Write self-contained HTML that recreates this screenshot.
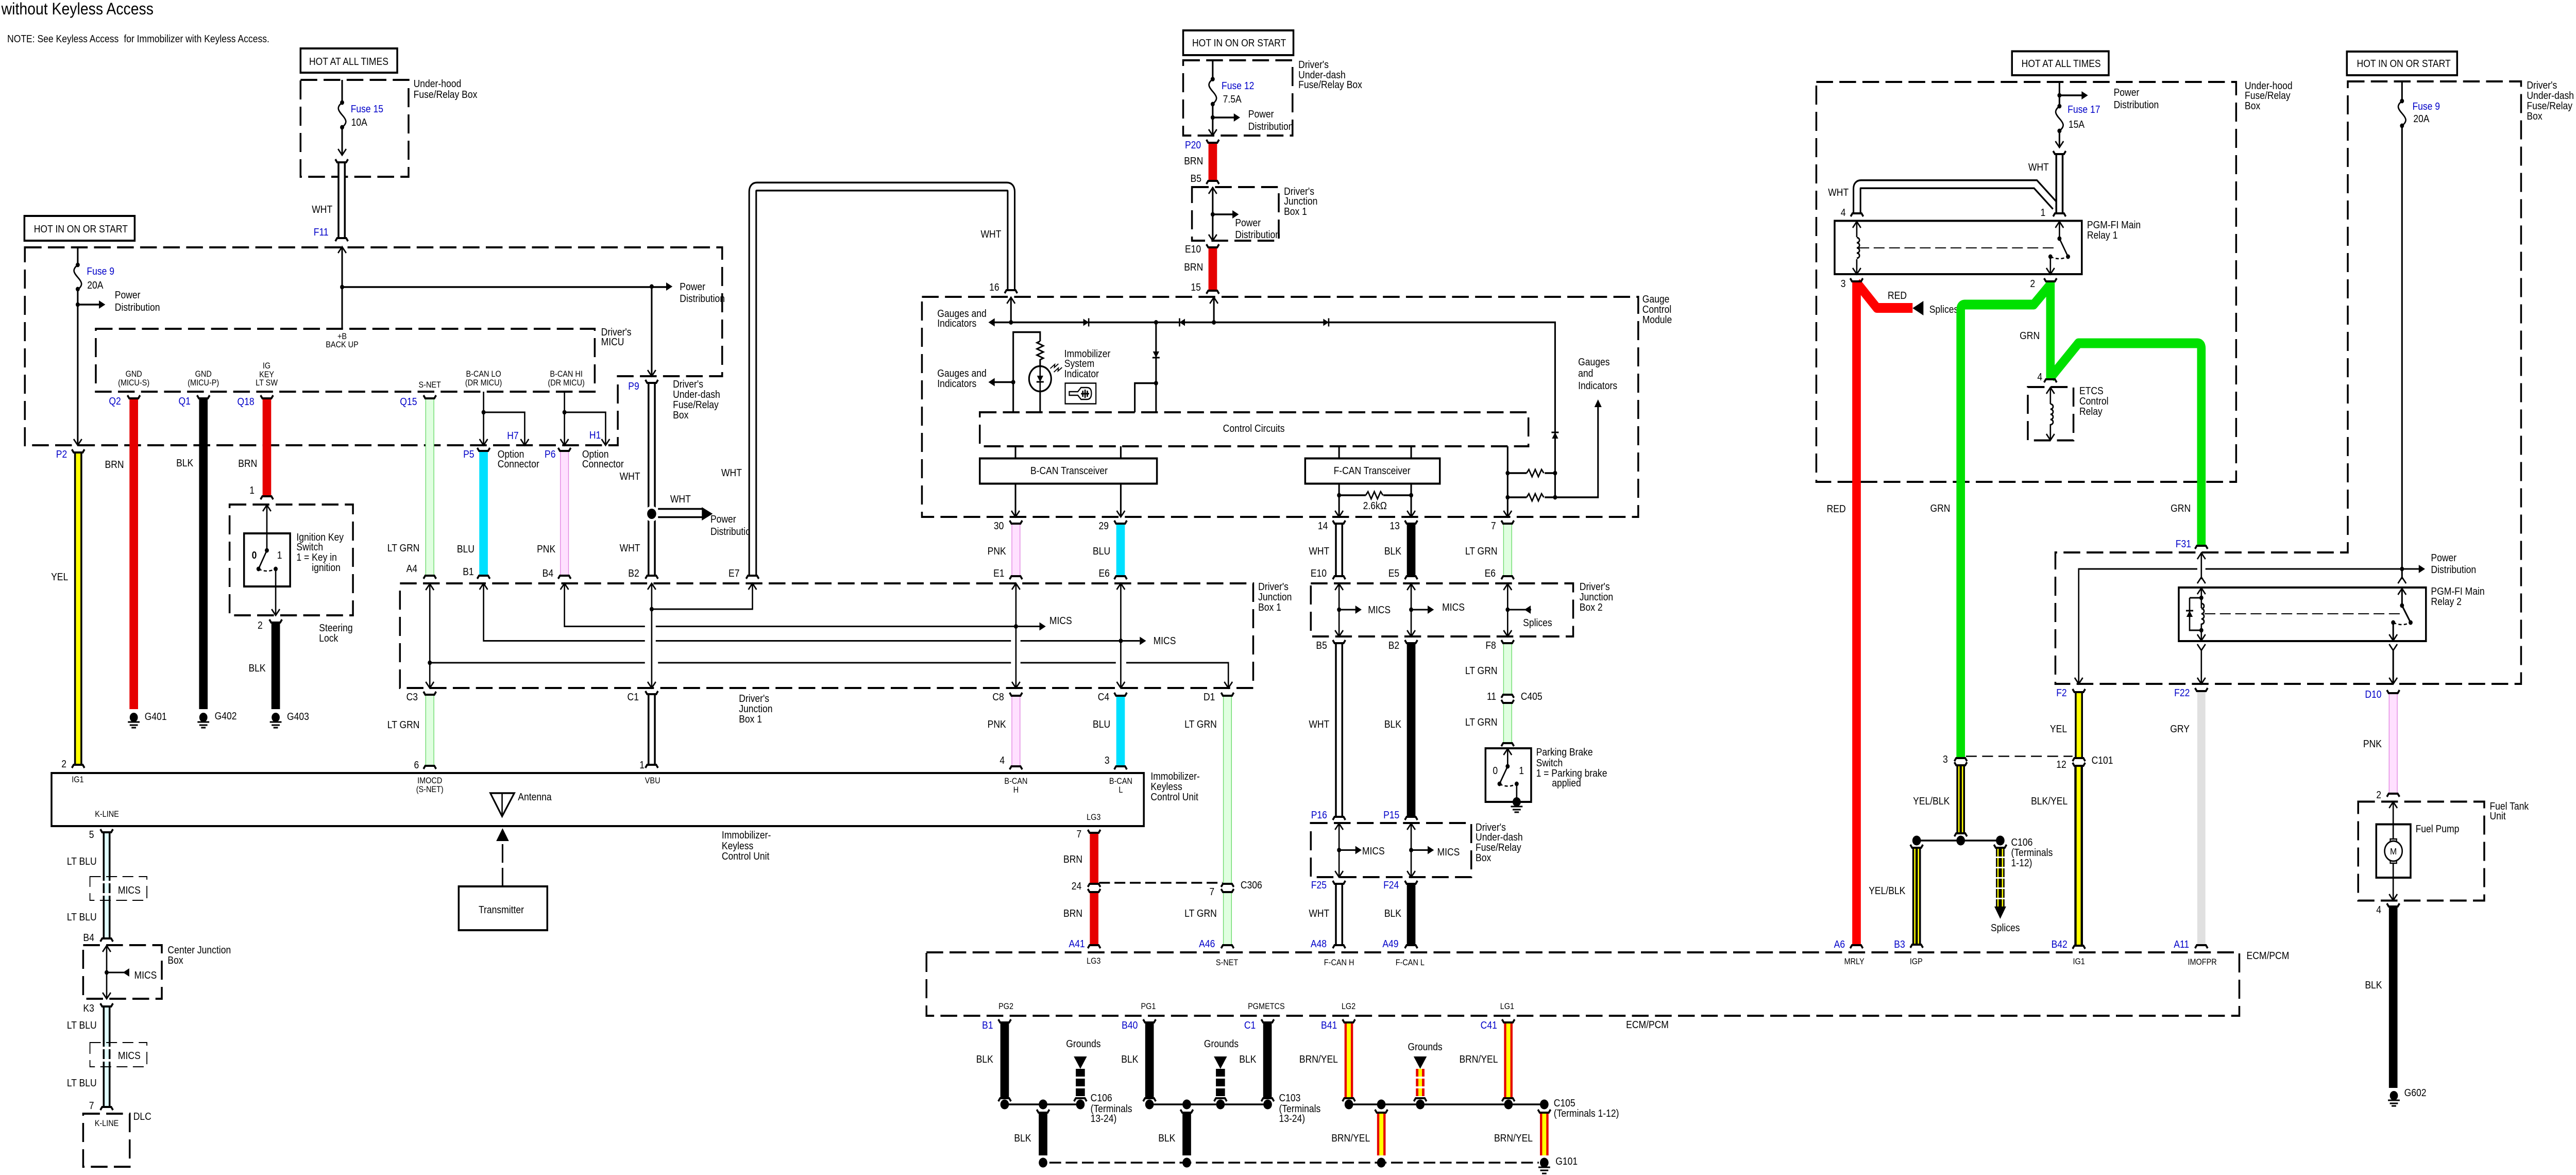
<!DOCTYPE html>
<html lang="en"><head><meta charset="utf-8"><title>without Keyless Access</title>
<style>
html,body{margin:0;padding:0;background:#fff;width:100%;height:100%;overflow:hidden}
svg{display:block;position:absolute;left:0;top:0;width:100%;height:100%}
text{font-family:"Liberation Sans",sans-serif;font-size:20px;fill:#000}
.s{font-size:16.5px}.m{text-anchor:middle}.b{fill:#0000c8}
.n{fill:none;stroke:#000;stroke-width:3.5}
.tl{fill:none;stroke:#000;stroke-width:3}
.box{fill:none;stroke:#000;stroke-width:4}
.d{fill:none;stroke:#000;stroke-width:4;stroke-dasharray:37 14}
.td{fill:none;stroke:#000;stroke-width:2;stroke-dasharray:24 12}
.r{fill:#e60000}.k{fill:#000}.bl{fill:#00e0ff}
.lg{fill:#e0ffe0;stroke:#66d866;stroke-width:1.5}
.pk{fill:#ffe0ff;stroke:#e080e0;stroke-width:1.5}
.wh{fill:#fff;stroke:#000;stroke-width:4}
.ye{fill:#ff0;stroke:#000;stroke-width:4}
.kl{fill:#e0ffff;stroke:#000;stroke-width:4}
.y{fill:#ff0}
</style></head><body>
<svg xmlns="http://www.w3.org/2000/svg" viewBox="0 0 5700 2280" preserveAspectRatio="none">
<defs>
<path id="t" d="M-14,-6L-10,0H10L14,-6" fill="none" stroke="#000" stroke-width="4"/>
<path id="u" d="M-14,6L-10,0H10L14,6" fill="none" stroke="#000" stroke-width="4"/>
<path id="ad" d="M-9,-12L0,0L9,-12" fill="none" stroke="#000" stroke-width="3"/>
<path id="au" d="M-9,12L0,0L9,12" fill="none" stroke="#000" stroke-width="3"/>
<circle id="o" r="4.5" fill="#000"/>
<circle id="O" r="9.5" fill="#000"/>
<polygon id="ar" points="-14,-8 0,0 -14,8" fill="#000"/>
<polygon id="al" points="14,-8 0,0 14,8" fill="#000"/>
<path id="fu" d="M0,0c-13,9-9,15 0,24c9,9 13,15 0,24" fill="none" stroke="#000" stroke-width="3"/>
<path id="co" d="M0,0a6,5 0 0 1 0,10a6,5 0 0 1 0,10a6,5 0 0 1 0,10a6,5 0 0 1 0,10" fill="none" stroke="#000" stroke-width="3"/>
<path id="re" d="M0,0l5,-7l7,14l7,-14l7,14l7,-14l5,7" fill="none" stroke="#000" stroke-width="3"/>
<path id="rv" d="M0,0l-7,3l14,6l-14,6l14,6l-14,6l14,6l-7,3" fill="none" stroke="#000" stroke-width="3"/>
<g id="g"><circle r="9" fill="#000"/><path d="M-13,9H13M-9,15H9M-5,20H5" stroke="#000" stroke-width="3"/></g>
<g id="dr"><polygon points="-6,-7 6,0 -6,7" fill="#000"/><path d="M6,-8V8" stroke="#000" stroke-width="3"/></g>
<g id="dl"><polygon points="6,-7 -6,0 6,7" fill="#000"/><path d="M-6,-8V8" stroke="#000" stroke-width="3"/></g>
<g id="dd"><polygon points="-7,-6 0,6 7,-6" fill="#000"/><path d="M-8,6H8" stroke="#000" stroke-width="3"/></g>
<g id="du"><polygon points="-7,6 0,-6 7,6" fill="#000"/><path d="M-8,-6H8" stroke="#000" stroke-width="3"/></g>
</defs>
<rect width="5700" height="2280" fill="#fff"/>

<!-- titles -->
<text x="3" y="28" style="font-size:32.4px">without Keyless Access</text>
<text x="16" y="82">NOTE: See Keyless Access</text>
<text x="274" y="82">for Immobilizer with Keyless Access.</text>

<!-- left upper boxes -->
<rect class="box" x="665" y="94" width="214" height="47"/>
<text x="684" y="126">HOT AT ALL TIMES</text>
<rect class="d" x="665" y="155" width="239" height="188"/>
<text x="915" y="169">Under-hood</text><text x="915" y="190">Fuse/Relay Box</text>
<path class="n" d="M757,155V199M757,247V301"/>
<use href="#o" x="757" y="199"/><use href="#o" x="757" y="247"/><use href="#fu" x="757" y="199"/><use href="#ad" x="757" y="301"/>
<text class="b" x="776" y="218">Fuse 15</text><text x="777" y="244">10A</text>
<rect class="wh" x="749" y="315" width="14" height="147"/><use href="#t" x="756" y="315"/><use href="#u" x="756" y="462"/>
<text x="690" y="413">WHT</text><text class="b" x="694" y="457">F11</text>

<rect class="box" x="54" y="419" width="244" height="48"/>
<text x="75" y="451">HOT IN ON OR START</text>
<path class="d" d="M55,480H1598V730H1367V864H55Z"/>
<path class="n" d="M172,480V514M172,561V864"/>
<use href="#o" x="172" y="514"/><use href="#o" x="172" y="561"/><use href="#fu" x="172" y="514"/><use href="#ad" x="172" y="864"/>
<use href="#o" x="172" y="591"/><path class="n" d="M172,591H225"/><use href="#ar" x="233" y="591"/>
<text class="b" x="192" y="533">Fuse 9</text><text x="193" y="560">20A</text>
<text x="254" y="579">Power</text><text x="254" y="603">Distribution</text>
<path class="n" d="M757,480V637M757,557H1478M1442,556V730"/><use href="#au" x="757" y="479"/><use href="#o" x="757" y="557"/><use href="#o" x="1442" y="556"/><use href="#ar" x="1488" y="556"/><use href="#ad" x="1442" y="730"/>
<text x="1504" y="563">Power</text><text x="1504" y="586">Distribution</text>

<rect class="d" x="212" y="638" width="1104" height="122"/>
<text class="s m" x="757" y="658">+B</text><text class="s m" x="757" y="674">BACK UP</text>
<text x="1330" y="651">Driver's</text><text x="1330" y="670">MICU</text>
<text class="s m" x="296" y="731">GND</text><text class="s m" x="296" y="748">(MICU-S)</text>
<text class="s m" x="450" y="731">GND</text><text class="s m" x="450" y="748">(MICU-P)</text>
<text class="s m" x="590" y="715">IG</text><text class="s m" x="590" y="732">KEY</text><text class="s m" x="590" y="748">LT SW</text>
<text class="s m" x="951" y="752">S-NET</text>
<text class="s m" x="1070" y="731">B-CAN LO</text><text class="s m" x="1070" y="748">(DR MICU)</text>
<text class="s m" x="1253" y="731">B-CAN HI</text><text class="s m" x="1253" y="748">(DR MICU)</text>

<!-- left wires -->
<rect class="r" x="286.5" y="773" width="19" height="603"/><use href="#t" x="296" y="773"/><use href="#g" x="296" y="1392"/>
<text class="b" x="241" y="785">Q2</text><text x="232" y="908">BRN</text><text x="320" y="1397">G401</text>
<rect class="k" x="440.5" y="773" width="19" height="603"/><use href="#t" x="450" y="773"/><use href="#g" x="450" y="1392"/>
<text class="b" x="395" y="785">Q1</text><text x="390" y="905">BLK</text><text x="475" y="1396">G402</text>
<rect class="r" x="581" y="773" width="19" height="190"/><use href="#t" x="590.5" y="773"/><use href="#u" x="590.5" y="963"/>
<text class="b" x="525" y="786">Q18</text><text x="527" y="906">BRN</text><text x="552" y="958">1</text>
<rect class="d" x="508" y="979" width="273" height="215"/>
<rect class="box" x="540" y="1035" width="102" height="103"/>
<path class="tl" d="M590.5,979V1068L572,1104M610,1104V1194"/><path d="M572,1104Q590,1112 610,1104" fill="none" stroke="#000" stroke-width="2.5" stroke-dasharray="7 5"/>
<use href="#au" x="590.5" y="980"/><use href="#ad" x="610" y="1194"/><use href="#o" x="590.5" y="1068"/><use href="#o" x="572" y="1104"/><use href="#o" x="610" y="1104"/>
<text x="557" y="1084" font-weight="bold">0</text><text x="613" y="1084">1</text>
<text x="656" y="1049">Ignition Key</text><text x="656" y="1068">Switch</text><text x="656" y="1088">1 = Key in</text><text x="690" y="1108">ignition</text>
<text x="706" y="1225">Steering</text><text x="706" y="1245">Lock</text><text x="570" y="1220">2</text>
<rect class="k" x="600.5" y="1208" width="19" height="168"/><use href="#t" x="610" y="1208"/><use href="#g" x="610" y="1392"/>
<text x="550" y="1303">BLK</text><text x="635" y="1397">G403</text>

<rect class="ye" x="166" y="878" width="14" height="606"/><use href="#t" x="173" y="878"/><use href="#u" x="173" y="1484"/>
<text class="b" x="124" y="888">P2</text><text x="113" y="1126">YEL</text><text x="136" y="1489">2</text>

<rect class="lg" x="942" y="773" width="18" height="344"/><use href="#t" x="951" y="773"/><use href="#u" x="951" y="1117"/>
<text class="b" x="885" y="786">Q15</text><text x="857" y="1070">LT GRN</text><text x="899" y="1110">A4</text>
<rect class="lg" x="942" y="1348" width="18" height="138"/><use href="#t" x="951" y="1348"/><use href="#u" x="951" y="1486"/>
<text x="899" y="1359">C3</text><text x="857" y="1413">LT GRN</text><text x="916" y="1491">6</text>

<!-- junction box 1 -->
<rect class="d" x="885" y="1132" width="1888" height="203"/>
<path class="tl" d="M951,1132V1335M951,1286H1427M1456,1286H2237M2258,1286H2469M2492,1286H2718V1335"/>
<use href="#au" x="951" y="1133"/><use href="#ad" x="951" y="1335"/><use href="#o" x="951" y="1286"/><use href="#ad" x="2718" y="1335"/>
<path class="tl" d="M1249,1132V1215.5H1427M1451,1215.5H2300"/><use href="#au" x="1249" y="1132"/><use href="#ar" x="2314" y="1215.5"/>
<path class="tl" d="M1070,1132V1243.5H1427M1451,1243.5H2237M2258,1243.5H2522"/><use href="#au" x="1070" y="1132"/><use href="#ar" x="2536" y="1243.5"/>
<path class="tl" d="M1442,1132V1335M1442,1182H1665V1132"/><use href="#au" x="1442" y="1132"/><use href="#ad" x="1442" y="1335"/><use href="#o" x="1442" y="1182"/><use href="#au" x="1665" y="1132"/>
<path class="tl" d="M2248,1132V1335M2480,1132V1335"/><use href="#au" x="2248" y="1132"/><use href="#ad" x="2248" y="1335"/><use href="#au" x="2480" y="1132"/><use href="#ad" x="2480" y="1335"/><use href="#o" x="2248" y="1215.5"/><use href="#o" x="2480" y="1243.5"/>
<text x="2322" y="1211">MICS</text><text x="2552" y="1250">MICS</text>
<text x="2784" y="1145">Driver's</text><text x="2784" y="1165">Junction</text><text x="2784" y="1185">Box 1</text>

<!-- option connectors -->
<path class="tl" d="M1070,760V864M1070,800H1161V864M1249,760V864M1249,800H1340V864"/>
<use href="#o" x="1070" y="800"/><use href="#o" x="1249" y="800"/><use href="#ad" x="1070" y="864"/><use href="#ad" x="1161" y="864"/><use href="#ad" x="1249" y="864"/><use href="#ad" x="1340" y="864"/>
<text class="b" x="1122" y="852">H7</text><text class="b" x="1304" y="851">H1</text>
<text x="1101" y="888">Option</text><text x="1101" y="907">Connector</text><text x="1288" y="888">Option</text><text x="1288" y="907">Connector</text>
<rect class="bl" x="1060.5" y="875" width="19" height="242"/><use href="#t" x="1070" y="875"/><use href="#u" x="1070" y="1117"/>
<text class="b" x="1025" y="888">P5</text><text x="1011" y="1072">BLU</text><text x="1024" y="1116">B1</text>
<rect class="pk" x="1240" y="875" width="18" height="242"/><use href="#t" x="1249" y="875"/><use href="#u" x="1249" y="1117"/>
<text class="b" x="1205" y="888">P6</text><text x="1188" y="1072">PNK</text><text x="1200" y="1119">B4</text>

<!-- P9 wire -->
<rect class="wh" x="1435" y="743" width="14" height="374"/><use href="#t" x="1442" y="743"/><use href="#u" x="1442" y="1117"/>
<circle cx="1442" cy="997" r="15" fill="#fff"/><circle cx="1442" cy="997" r="10" fill="#000"/>
<path class="n" d="M1456,987.5H1556M1456,1003.5H1556"/><polygon points="1553,984 1577,997 1553,1010" fill="#000"/>
<text class="b" x="1390" y="756">P9</text>
<text x="1489" y="752">Driver's</text><text x="1489" y="772">Under-dash</text><text x="1489" y="792">Fuse/Relay</text><text x="1489" y="812">Box</text>
<text x="1371" y="931">WHT</text><text x="1371" y="1070">WHT</text><text x="1483" y="975">WHT</text>
<text x="1572" y="1014">Power</text><text x="1572" y="1038">Distribution</text>
<text x="1390" y="1119">B2</text><text x="1596" y="924">WHT</text><text x="1612" y="1119">E7</text>
<rect class="wh" x="1435" y="1347" width="14" height="137"/><use href="#t" x="1442" y="1347"/><use href="#u" x="1442" y="1484"/>
<text x="1388" y="1359">C1</text><text x="1415" y="1491">1</text>
<text x="1635" y="1362">Driver's</text><text x="1635" y="1382">Junction</text><text x="1635" y="1402">Box 1</text>
<!-- E7 wire -->
<path d="M1665.5,1117V372Q1665.5,362 1675,362H2228Q2237.5,362 2237.5,372V563" fill="none" stroke="#000" stroke-width="19"/>
<path d="M1665.5,1117V372Q1665.5,362 1675,362H2228Q2237.5,362 2237.5,372V563" fill="none" stroke="#fff" stroke-width="12"/>
<use href="#u" x="1665" y="1117"/><use href="#u" x="2237" y="563"/>
<text x="2170" y="461">WHT</text>

<!-- immobilizer unit -->
<rect class="box" x="114" y="1500" width="2417" height="103"/>
<text class="s m" x="172" y="1518">IG1</text><text class="s" x="210" y="1585">K-LINE</text>
<text class="s m" x="951" y="1520">IMOCD</text><text class="s m" x="951" y="1537">(S-NET)</text>
<text class="s m" x="1444" y="1520">VBU</text>
<text class="s m" x="2248" y="1521">B-CAN</text><text class="s m" x="2248" y="1538">H</text>
<text class="s m" x="2480" y="1521">B-CAN</text><text class="s m" x="2480" y="1538">L</text>
<text class="s m" x="2420" y="1591">LG3</text>
<text x="2546" y="1513">Immobilizer-</text><text x="2546" y="1533">Keyless</text><text x="2546" y="1553">Control Unit</text>
<text x="1597" y="1627">Immobilizer-</text><text x="1597" y="1648">Keyless</text><text x="1597" y="1668">Control Unit</text>
<polygon points="1085,1539 1138,1539 1111,1584" fill="none" stroke="#000" stroke-width="3.5"/><path class="tl" d="M1111,1539V1584"/>
<text x="1146" y="1553">Antenna</text>
<rect class="box" x="1015" y="1720" width="196" height="85"/><text x="1059" y="1772">Transmitter</text>
<path d="M1112,1720V1630" fill="none" stroke="#000" stroke-width="3.5" stroke-dasharray="36 10"/><polygon points="1098,1632 1112,1607 1126,1632" fill="#000"/>

<!-- K-LINE -->
<rect class="kl" x="229.5" y="1615" width="13" height="206"/><use href="#t" x="236" y="1615"/><use href="#u" x="236" y="1821"/>
<rect x="226" y="1709" width="20" height="5" fill="#fff"/><rect x="226" y="1733" width="20" height="5" fill="#fff"/>
<path class="td" d="M199,1701H325V1747H199Z"/>
<rect class="kl" x="229.5" y="1953" width="13" height="195"/><use href="#t" x="236" y="1953"/><use href="#u" x="236" y="2148"/>
<rect x="226" y="2031" width="20" height="5" fill="#fff"/><rect x="226" y="2055" width="20" height="5" fill="#fff"/>
<path class="td" d="M199,2023H325V2070H199Z"/>
<text x="261" y="1734">MICS</text><text x="261" y="2055">MICS</text>
<text x="197" y="1626">5</text><text x="148" y="1678">LT BLU</text><text x="148" y="1786">LT BLU</text><text x="184" y="1826">B4</text>
<rect class="d" x="184" y="1834" width="174" height="104"/>
<path class="tl" d="M236,1834V1938M236,1887H278"/><use href="#au" x="236" y="1835"/><use href="#ad" x="236" y="1938"/><use href="#o" x="236" y="1887"/><use href="#al" x="272" y="1887"/>
<text x="297" y="1899">MICS</text><text x="371" y="1850">Center Junction</text><text x="371" y="1870">Box</text>
<text x="184" y="1963">K3</text><text x="148" y="1996">LT BLU</text><text x="148" y="2108">LT BLU</text><text x="197" y="2152">7</text>
<rect class="d" x="184" y="2161" width="103" height="103"/><text x="295" y="2173">DLC</text><text class="s m" x="236" y="2185">K-LINE</text>

<!-- gauge top -->
<rect class="box" x="2618" y="59" width="244" height="48"/><text x="2638" y="90">HOT IN ON OR START</text>
<rect class="d" x="2618" y="117" width="242" height="146"/>
<path class="n" d="M2683.4,117V153M2683.4,202V263M2683.4,228H2736"/>
<use href="#o" x="2683.4" y="153.5"/><use href="#o" x="2683.4" y="202"/><use href="#fu" x="2683.4" y="153.5"/><use href="#o" x="2683.4" y="228"/><use href="#ar" x="2744" y="228"/><use href="#ad" x="2683.4" y="263"/>
<text class="b" x="2703" y="173">Fuse 12</text><text x="2706" y="199">7.5A</text><text x="2762" y="228">Power</text><text x="2762" y="252">Distribution</text>
<text x="2873" y="132">Driver's</text><text x="2873" y="152">Under-dash</text><text x="2873" y="171">Fuse/Relay Box</text>
<rect class="r" x="2674" y="277" width="19" height="74"/><use href="#t" x="2683.4" y="277"/><use href="#u" x="2683.4" y="351"/>
<text class="b" x="2622" y="288">P20</text><text x="2620" y="319">BRN</text><text x="2634" y="353">B5</text>
<rect class="d" x="2637.5" y="363" width="192" height="104"/>
<path class="n" d="M2683.4,363V467M2683.4,416H2735"/><use href="#au" x="2683.4" y="364"/><use href="#ad" x="2683.4" y="467"/><use href="#o" x="2683.4" y="416"/><use href="#ar" x="2741" y="416"/>
<text x="2733" y="439">Power</text><text x="2733" y="462">Distribution</text>
<text x="2841" y="378">Driver's</text><text x="2841" y="397">Junction</text><text x="2841" y="417">Box 1</text>
<rect class="r" x="2674" y="480" width="19" height="84"/><use href="#t" x="2683.4" y="480"/><use href="#u" x="2683.4" y="564"/>
<text x="2622" y="490">E10</text><text x="2620" y="525">BRN</text><text x="2635" y="564">15</text><text x="2189" y="564">16</text>

<!-- gauge module -->
<rect class="d" x="2040" y="576" width="1585" height="427"/>
<text x="3634" y="587">Gauge</text><text x="3634" y="607">Control</text><text x="3634" y="627">Module</text>
<path class="n" d="M2195,625.5H3441V965M2237,576V625M2686,576V625"/>
<use href="#au" x="2237" y="577"/><use href="#au" x="2686" y="577"/><use href="#al" x="2187" y="625.5"/><use href="#o" x="2237" y="625.5"/><use href="#o" x="2558" y="625.5"/><use href="#o" x="2686" y="625.5"/>
<use href="#dr" x="2403" y="625.5"/><use href="#dl" x="2616" y="625.5"/><use href="#dr" x="2934" y="625.5"/>
<text x="2074" y="615">Gauges and</text><text x="2074" y="634">Indicators</text><text x="2074" y="731">Gauges and</text><text x="2074" y="751">Indicators</text>
<path class="n" d="M2242,800V644.5H2301.5V662M2301.5,697V710M2301.5,760V800M2195,741.5H2242"/>
<use href="#al" x="2187" y="741.5"/><use href="#o" x="2242" y="741.5"/><use href="#rv" x="2301.5" y="662"/>
<circle cx="2301.5" cy="735" r="24.5" fill="none" stroke="#000" stroke-width="3.5"/><path class="tl" d="M2301.5,710V760"/><use href="#dd" x="2301.5" y="735"/>
<path d="M2324,715l10,-8-1,6 9,-7M2332,722l10,-8-1,6 9,-7" fill="none" stroke="#000" stroke-width="2"/>
<text x="2355" y="693">Immobilizer</text><text x="2355" y="712">System</text><text x="2355" y="732">Indicator</text>
<rect x="2357" y="743.5" width="68" height="40" fill="none" stroke="#000" stroke-width="2.5"/>
<path d="M2366,760H2385L2392,752H2405Q2415,752 2415,763Q2415,775 2405,775H2392L2385,767H2366Z" fill="none" stroke="#000" stroke-width="2.5"/><path d="M2396,758V770M2401,756V772M2406,758V770M2392,764H2410" stroke="#000" stroke-width="3"/>
<path class="n" d="M2558,625V800M2511,800V743.5H2558"/><use href="#dd" x="2558" y="688"/><use href="#o" x="2558" y="743.5"/>
<rect class="d" x="2168" y="800" width="1214" height="66"/><text x="2706" y="838">Control Circuits</text>
<rect class="box" x="2168" y="889.5" width="392" height="49"/><text x="2280" y="920">B-CAN Transceiver</text>
<rect class="box" x="2888" y="889.5" width="298" height="49"/><text x="2951" y="920">F-CAN Transceiver</text>
<path class="n" d="M2247,866V889M2247,938V1003M2480,866V889M2480,938V1003M2963,866V889M2963,938V1003M3122.5,866V889M3122.5,938V1003M2963,961H3022M3061,961H3122M3336,866V1003"/>
<use href="#re" x="3022" y="961"/><use href="#o" x="2963" y="961"/><use href="#o" x="3122.5" y="961"/>
<use href="#ad" x="2247" y="1003"/><use href="#ad" x="2480" y="1003"/><use href="#ad" x="2963" y="1003"/><use href="#ad" x="3122.5" y="1003"/><use href="#ad" x="3336" y="1003"/>
<text x="3016" y="988">2.6kΩ</text>
<path class="n" d="M3336,965H3378M3418,965H3536V785M3336,918H3378M3418,918H3441"/>
<use href="#re" x="3378" y="965"/><use href="#re" x="3378" y="918"/><use href="#o" x="3336" y="965"/><use href="#o" x="3336" y="918"/><use href="#o" x="3441" y="965"/><use href="#o" x="3441" y="918"/><use href="#du" x="3441" y="845"/>
<polygon points="3528,790 3536,775 3544,790" fill="#000"/>
<text x="3492" y="709">Gauges</text><text x="3492" y="731">and</text><text x="3492" y="755">Indicators</text>

<!-- under gauge wires -->
<rect class="pk" x="2239" y="1016" width="18" height="102"/><use href="#t" x="2248" y="1016"/><use href="#u" x="2248" y="1118"/>
<rect class="bl" x="2470" y="1016" width="19" height="102"/><use href="#t" x="2479.5" y="1016"/><use href="#u" x="2479.5" y="1118"/>
<rect class="wh" x="2956" y="1016" width="14" height="102"/><use href="#t" x="2963" y="1016"/><use href="#u" x="2963" y="1118"/>
<rect class="k" x="3113" y="1016" width="19" height="102"/><use href="#t" x="3122.5" y="1016"/><use href="#u" x="3122.5" y="1118"/>
<rect class="lg" x="3327" y="1016" width="18" height="102"/><use href="#t" x="3336" y="1016"/><use href="#u" x="3336" y="1118"/>
<text x="2199" y="1027">30</text><text x="2431" y="1027">29</text><text x="2916" y="1027">14</text><text x="3075" y="1027">13</text><text x="3299" y="1027">7</text>
<text x="2185" y="1076">PNK</text><text x="2418" y="1076">BLU</text><text x="2896" y="1076">WHT</text><text x="3063" y="1076">BLK</text><text x="3242" y="1076">LT GRN</text>
<text x="2198" y="1119">E1</text><text x="2431" y="1119">E6</text><text x="2900" y="1119">E10</text><text x="3072" y="1119">E5</text><text x="3285" y="1119">E6</text>

<rect class="pk" x="2239" y="1350" width="18" height="137"/><use href="#t" x="2248" y="1350"/><use href="#u" x="2248" y="1487"/>
<rect class="bl" x="2470" y="1350" width="19" height="137"/><use href="#t" x="2479.5" y="1350"/><use href="#u" x="2479.5" y="1487"/>
<rect class="lg" x="2707" y="1350" width="18" height="365"/><use href="#t" x="2716" y="1350"/><use href="#u" x="2716" y="1715"/>
<text x="2196" y="1359">C8</text><text x="2429" y="1359">C4</text><text x="2663" y="1359">D1</text>
<text x="2185" y="1412">PNK</text><text x="2418" y="1412">BLU</text><text x="2621" y="1412">LT GRN</text><text x="2212" y="1482">4</text><text x="2444" y="1482">3</text>
<rect class="r" x="2411.5" y="1616" width="19" height="99"/><use href="#t" x="2421" y="1616"/><use href="#u" x="2421" y="1715"/>
<rect class="r" x="2411.5" y="1731" width="19" height="103"/><use href="#t" x="2421" y="1731"/><use href="#u" x="2421" y="1834"/>
<rect class="lg" x="2707" y="1731" width="18" height="103"/><use href="#t" x="2716" y="1731"/><use href="#u" x="2716" y="1834"/>
<path d="M2432,1713H2705" fill="none" stroke="#000" stroke-width="3.5" stroke-dasharray="24 10"/>
<text x="2382" y="1625">7</text><text x="2353" y="1674">BRN</text><text x="2371" y="1726">24</text><text x="2745" y="1724">C306</text><text x="2676" y="1737">7</text>
<text x="2353" y="1779">BRN</text><text x="2621" y="1779">LT GRN</text>
<text class="b" x="2365" y="1838">A41</text><text class="b" x="2653" y="1838">A46</text><text class="b" x="2900" y="1838">A48</text><text class="b" x="3059" y="1838">A49</text>

<!-- junction box 2 -->
<rect class="d" x="2900.5" y="1132" width="580.5" height="103"/>
<path class="tl" d="M2963,1132V1235M3122.5,1132V1235M3336,1132V1235M2963,1183H3000M3122.5,1183H3160M3336,1183H3388"/>
<use href="#au" x="2963" y="1133"/><use href="#ad" x="2963" y="1235"/><use href="#au" x="3122.5" y="1133"/><use href="#ad" x="3122.5" y="1235"/><use href="#au" x="3336" y="1133"/><use href="#ad" x="3336" y="1235"/>
<use href="#o" x="2963" y="1183"/><use href="#o" x="3122.5" y="1183"/><use href="#o" x="3336" y="1183"/><use href="#ar" x="3013" y="1183"/><use href="#ar" x="3173" y="1183"/><use href="#al" x="3373" y="1183"/>
<text x="3027" y="1190">MICS</text><text x="3191" y="1185">MICS</text><text x="3370" y="1215">Splices</text>
<text x="3495" y="1145">Driver's</text><text x="3495" y="1165">Junction</text><text x="3495" y="1185">Box 2</text>
<rect class="wh" x="2956" y="1248" width="14" height="337"/><use href="#t" x="2963" y="1248"/><use href="#u" x="2963" y="1585"/>
<rect class="k" x="3113" y="1248" width="19" height="337"/><use href="#t" x="3122.5" y="1248"/><use href="#u" x="3122.5" y="1585"/>
<rect class="lg" x="3327" y="1248" width="18" height="100"/><use href="#t" x="3336" y="1248"/><use href="#u" x="3336" y="1348"/>
<rect class="lg" x="3327" y="1364" width="18" height="78"/><use href="#t" x="3336" y="1364"/><use href="#u" x="3336" y="1442"/>
<text x="2912" y="1259">B5</text><text x="3072" y="1259">B2</text><text x="3287" y="1259">F8</text>
<text x="3242" y="1308">LT GRN</text><text x="3290" y="1358">11</text><text x="3365" y="1358">C405</text><text x="3242" y="1408">LT GRN</text>
<text x="2896" y="1412">WHT</text><text x="3063" y="1412">BLK</text>
<text class="b" x="2901" y="1588">P16</text><text class="b" x="3061" y="1588">P15</text>
<rect class="box" x="3287" y="1452" width="101" height="104"/>
<path class="tl" d="M3336,1452V1487L3318,1521M3356,1521V1556"/><path d="M3318,1521Q3336,1530 3356,1521" fill="none" stroke="#000" stroke-width="2.5" stroke-dasharray="7 5"/>
<use href="#au" x="3336" y="1453"/><use href="#o" x="3336" y="1487"/><use href="#o" x="3318" y="1521"/><use href="#o" x="3356" y="1521"/><use href="#g" x="3356" y="1556"/>
<text x="3303" y="1502">0</text><text x="3361" y="1502">1</text>
<text x="3399" y="1466">Parking Brake</text><text x="3399" y="1487">Switch</text><text x="3399" y="1507">1 = Parking brake</text><text x="3434" y="1526">applied</text>
<rect class="d" x="2900.5" y="1597" width="355" height="105"/>
<path class="tl" d="M2963,1597V1702M3122.5,1597V1702M2963,1649.5H3000M3122.5,1649.5H3160"/>
<use href="#au" x="2963" y="1598"/><use href="#ad" x="2963" y="1702"/><use href="#au" x="3122.5" y="1598"/><use href="#ad" x="3122.5" y="1702"/><use href="#o" x="2963" y="1649.5"/><use href="#o" x="3122.5" y="1649.5"/><use href="#ar" x="3013" y="1649.5"/><use href="#ar" x="3173" y="1649.5"/>
<text x="3014" y="1658">MICS</text><text x="3180" y="1660">MICS</text>
<text x="3265" y="1612">Driver's</text><text x="3265" y="1631">Under-dash</text><text x="3265" y="1651">Fuse/Relay</text><text x="3265" y="1671">Box</text>
<rect class="wh" x="2956" y="1715" width="14" height="119"/><use href="#t" x="2963" y="1715"/><use href="#u" x="2963" y="1834"/>
<rect class="k" x="3113" y="1715" width="19" height="119"/><use href="#t" x="3122.5" y="1715"/><use href="#u" x="3122.5" y="1834"/>
<text class="b" x="2901" y="1724">F25</text><text class="b" x="3061" y="1724">F24</text><text x="2896" y="1779">WHT</text><text x="3063" y="1779">BLK</text>

<!-- ECM -->
<rect class="d" x="2050" y="1848" width="2905" height="123"/>
<text class="s m" x="2420" y="1870">LG3</text><text class="s m" x="2715" y="1873">S-NET</text><text class="s m" x="2963" y="1873">F-CAN H</text><text class="s m" x="3120" y="1873">F-CAN L</text>
<text class="s m" x="2226" y="1958">PG2</text><text class="s m" x="2541" y="1958">PG1</text><text class="s m" x="2802" y="1958">PGMETCS</text><text class="s m" x="2984" y="1958">LG2</text><text class="s m" x="3335" y="1958">LG1</text>
<text x="3598" y="1995">ECM/PCM</text><text x="4971" y="1861">ECM/PCM</text>
<text class="s m" x="4103" y="1871">MRLY</text><text class="s m" x="4240" y="1871">IGP</text><text class="s m" x="4600" y="1871">IG1</text><text class="s m" x="4873" y="1872">IMOFPR</text>

<!-- ground wires -->
<rect class="k" x="2213.5" y="1984" width="19" height="147"/><rect class="k" x="2534" y="1984" width="19" height="147"/><rect class="k" x="2795" y="1984" width="19" height="147"/>
<rect class="r" x="2975" y="1984" width="19" height="147"/><rect class="y" x="2980" y="1984" width="9" height="147"/>
<rect class="r" x="3328" y="1984" width="19" height="147"/><rect class="y" x="3333" y="1984" width="9" height="147"/>
<use href="#t" x="2223" y="1984"/><use href="#u" x="2223" y="2131"/><use href="#t" x="2543.5" y="1984"/><use href="#u" x="2543.5" y="2131"/><use href="#t" x="2805" y="1984"/><use href="#u" x="2805" y="2131"/><use href="#t" x="2984.5" y="1984"/><use href="#u" x="2984.5" y="2131"/><use href="#t" x="3337.5" y="1984"/><use href="#u" x="3337.5" y="2131"/>
<path class="n" d="M2223,2143H2390M2543.5,2143H2805M2984.7,2143H3417"/>
<use href="#O" x="2223" y="2143"/><use href="#O" x="2308" y="2143"/><use href="#O" x="2390.5" y="2143"/>
<use href="#O" x="2543.5" y="2143"/><use href="#O" x="2626" y="2143"/><use href="#O" x="2700.5" y="2143"/><use href="#O" x="2805" y="2143"/>
<use href="#O" x="2984.7" y="2143"/><use href="#O" x="3056.4" y="2143"/><use href="#O" x="3142.6" y="2143"/><use href="#O" x="3337.8" y="2143"/><use href="#O" x="3417" y="2143"/>
<polygon points="2376,2050 2405,2050 2390.5,2074" fill="#000"/><path d="M2390.5,2074V2128" stroke="#000" stroke-width="20" stroke-dasharray="15 4"/><use href="#u" x="2390.5" y="2131"/>
<polygon points="2686,2050 2715,2050 2700.5,2074" fill="#000"/><path d="M2700.5,2074V2128" stroke="#000" stroke-width="20" stroke-dasharray="15 4"/><use href="#u" x="2700.5" y="2131"/>
<polygon points="3128,2050 3157,2050 3142.5,2074" fill="#000"/><path d="M3142.5,2074V2128" stroke="#e60000" stroke-width="19" stroke-dasharray="15 4"/><path d="M3142.5,2074V2128" stroke="#ff0" stroke-width="8" stroke-dasharray="15 4"/><use href="#u" x="3142.5" y="2131"/>
<text x="2359" y="2032">Grounds</text><text x="2664" y="2032">Grounds</text><text x="3115" y="2038">Grounds</text>
<text class="b" x="2173" y="1996">B1</text><text class="b" x="2482" y="1996">B40</text><text class="b" x="2753" y="1996">C1</text><text class="b" x="2923" y="1996">B41</text><text class="b" x="3276" y="1996">C41</text>
<text x="2160" y="2062">BLK</text><text x="2481" y="2062">BLK</text><text x="2742" y="2062">BLK</text><text x="2875" y="2062">BRN/YEL</text><text x="3229" y="2062">BRN/YEL</text>
<text x="2413" y="2137">C106</text><text x="2413" y="2158">(Terminals</text><text x="2413" y="2177">13-24)</text>
<text x="2830" y="2137">C103</text><text x="2830" y="2158">(Terminals</text><text x="2830" y="2177">13-24)</text>
<text x="3438" y="2147">C105</text><text x="3438" y="2167">(Terminals 1-12)</text>
<rect class="k" x="2298.5" y="2159" width="19" height="83"/><rect class="k" x="2616.5" y="2159" width="19" height="83"/>
<rect class="r" x="3047" y="2159" width="19" height="83"/><rect class="y" x="3052" y="2159" width="9" height="83"/>
<rect class="r" x="3407.5" y="2159" width="19" height="83"/><rect class="y" x="3412.5" y="2159" width="9" height="83"/>
<use href="#t" x="2308" y="2159"/><use href="#t" x="2626" y="2159"/><use href="#t" x="3056.4" y="2159"/><use href="#t" x="3417" y="2159"/>
<text x="2244" y="2215">BLK</text><text x="2563" y="2215">BLK</text><text x="2946" y="2215">BRN/YEL</text><text x="3306" y="2215">BRN/YEL</text>
<path d="M2322,2256H3405" fill="none" stroke="#000" stroke-width="3.5" stroke-dasharray="26 10"/>
<use href="#O" x="2308" y="2256"/><use href="#O" x="2626" y="2256"/><use href="#O" x="3056.4" y="2256"/><use href="#O" x="3417" y="2256"/>
<path d="M3404,2265H3430M3408,2271H3426M3412,2277H3422" stroke="#000" stroke-width="3"/>
<text x="3442" y="2260">G101</text>

<!-- relay 1 section -->
<rect class="d" x="4019" y="159" width="929" height="776"/>
<rect class="box" x="4452" y="99.5" width="214" height="46.5"/><text x="4473" y="130">HOT AT ALL TIMES</text>
<path class="n" d="M4557,159V206M4557,254V286M4557,185H4608"/><use href="#o" x="4557" y="185"/><use href="#o" x="4557" y="206"/><use href="#o" x="4557" y="254"/><use href="#fu" x="4557" y="206"/><use href="#ar" x="4620" y="185"/><use href="#ad" x="4557" y="286"/>
<text class="b" x="4575" y="219">Fuse 17</text><text x="4577" y="248">15A</text><text x="4677" y="186">Power</text><text x="4677" y="210">Distribution</text>
<text x="4967" y="173">Under-hood</text><text x="4967" y="192">Fuse/Relay</text><text x="4967" y="212">Box</text>
<path d="M4109,414V366Q4109,357.5 4118,357.5H4504L4548,400" fill="none" stroke="#000" stroke-width="19"/>
<path d="M4109,414V366Q4109,357.5 4118,357.5H4504L4548,400" fill="none" stroke="#fff" stroke-width="12"/>
<rect class="wh" x="4550" y="299" width="14" height="115"/><use href="#t" x="4557" y="299"/><use href="#u" x="4557" y="414"/><use href="#u" x="4109" y="414"/>
<text x="4488" y="331">WHT</text><text x="4045" y="380">WHT</text><text x="4073" y="419">4</text><text x="4515" y="419">1</text>
<rect class="box" x="4059.5" y="428.5" width="547" height="103.5"/>
<path class="tl" d="M4108.5,429V460M4108.5,503V532M4557,429V463L4576,498M4537,498V532"/>
<use href="#co" x="4108.5" y="461"/><use href="#au" x="4108.5" y="430"/><use href="#ad" x="4108.5" y="532"/><use href="#au" x="4557" y="430"/><use href="#ad" x="4537" y="532"/>
<path d="M4112,481H4550" fill="none" stroke="#000" stroke-width="2" stroke-dasharray="24 10"/><path d="M4537,498Q4556,506 4576,498" fill="none" stroke="#000" stroke-width="2.5" stroke-dasharray="7 5"/>
<use href="#o" x="4557" y="463"/><use href="#o" x="4576" y="498"/><use href="#o" x="4537" y="498"/>
<text x="4618" y="443">PGM-FI Main</text><text x="4618" y="463">Relay 1</text>
<text x="4073" y="557">3</text><text x="4492" y="557">2</text>
<path d="M4108,546V1834M4108,548L4153,597.5H4232" fill="none" stroke="#f00" stroke-width="19" stroke-linejoin="round"/>
<polygon points="4232,598 4256,584 4256,612" fill="#000"/><use href="#t" x="4108" y="546"/><use href="#u" x="4108" y="1834"/>
<text x="4177" y="580">RED</text><text x="4269" y="607">Splices</text><text x="4042" y="994">RED</text><text class="b" x="4058" y="1839">A6</text>
<path d="M4537,546V736M4537,552L4500,591H4348Q4338.5,591 4338.5,601V1471M4537,733L4599,666H4862Q4871,666 4871,676V1059" fill="none" stroke="#00e000" stroke-width="19" stroke-linejoin="round"/>
<use href="#t" x="4537" y="546"/><use href="#u" x="4338.5" y="1471"/><use href="#u" x="4537" y="736"/><use href="#u" x="4871" y="1059"/>
<text x="4469" y="658">GRN</text><text x="4271" y="993">GRN</text><text x="4803" y="993">GRN</text><text x="4508" y="738">4</text>
<rect class="d" x="4487" y="751" width="101" height="103.5"/>
<path class="tl" d="M4537,751V784M4537,823V854"/><use href="#co" x="4537" y="784"/><use href="#au" x="4537" y="752"/><use href="#ad" x="4537" y="854"/>
<text x="4601" y="765">ETCS</text><text x="4601" y="785">Control</text><text x="4601" y="805">Relay</text>

<!-- relay 2 section -->
<path class="d" d="M5195,158H5578.5V1327H4548V1072H5195Z"/>
<rect class="box" x="5193" y="100" width="244" height="46"/><text x="5215" y="130">HOT IN ON OR START</text>
<path class="n" d="M5315,158V196M5315,244V1124"/><use href="#o" x="5315" y="196"/><use href="#o" x="5315" y="244"/><use href="#fu" x="5315" y="196"/><use href="#au" x="5315" y="1120"/>
<text class="b" x="5338" y="213">Fuse 9</text><text x="5340" y="237">20A</text>
<text x="5591" y="172">Driver's</text><text x="5591" y="192">Under-dash</text><text x="5591" y="212">Fuse/Relay</text><text x="5591" y="232">Box</text>
<path class="tl" d="M4599.6,1327V1104H4862M4880,1104H5355"/><use href="#ad" x="4599.6" y="1327"/><use href="#o" x="5315" y="1104"/><use href="#ar" x="5366" y="1104"/>
<text x="5379" y="1089">Power</text><text x="5379" y="1112">Distribution</text><text x="5379" y="1154">PGM-FI Main</text><text x="5379" y="1174">Relay 2</text>
<rect class="box" x="4821" y="1140" width="547" height="104"/>
<path class="tl" d="M4871,1072V1124M4871,1141V1180M4871,1210V1244M4845,1160H4871M4845,1160V1223H4871M4871,1262V1327"/>
<use href="#au" x="4871" y="1073"/><use href="#au" x="4871" y="1120"/><use href="#au" x="4871" y="1141"/><use href="#ad" x="4871" y="1243"/><use href="#ad" x="4871" y="1262"/><use href="#ad" x="4871" y="1327"/>
<use href="#o" x="4871" y="1160"/><use href="#o" x="4871" y="1223"/><use href="#co" x="4871" y="1171"/><use href="#du" x="4845" y="1191"/>
<path d="M4878,1191H5312" fill="none" stroke="#000" stroke-width="2" stroke-dasharray="24 10"/>
<path class="n" d="M5315,1141V1175L5334,1208M5295.5,1208V1244M5295.5,1262V1327"/><use href="#au" x="5315" y="1142"/><use href="#ad" x="5295.5" y="1243"/><use href="#ad" x="5295.5" y="1262"/><use href="#ad" x="5295.5" y="1327"/>
<path d="M5295.5,1208Q5315,1216 5334,1208" fill="none" stroke="#000" stroke-width="2.5" stroke-dasharray="7 5"/>
<use href="#o" x="5315" y="1175"/><use href="#o" x="5334" y="1208"/><use href="#o" x="5295.5" y="1208"/>
<text class="b" x="4814" y="1062">F31</text><text class="b" x="4550" y="1351">F2</text><text class="b" x="4811" y="1351">F22</text><text class="b" x="5233" y="1354">D10</text>

<rect class="ye" x="4593" y="1343" width="14" height="128"/><use href="#t" x="4600" y="1343"/><use href="#u" x="4600" y="1471"/>
<path d="M4350,1467.5H4586" fill="none" stroke="#000" stroke-width="2.5" stroke-dasharray="24 12"/>
<text x="4536" y="1421">YEL</text><text x="4802" y="1421">GRY</text><text x="4299" y="1480">3</text><text x="4550" y="1490">12</text><text x="4628" y="1482">C101</text>
<rect class="k" x="4590" y="1486" width="19" height="349"/><rect class="y" x="4595" y="1486" width="9" height="349"/><use href="#t" x="4600" y="1486"/><use href="#u" x="4600" y="1835"/>
<text x="4494" y="1561">BLK/YEL</text><text class="b" x="4539" y="1839">B42</text>
<rect x="4862" y="1341" width="18" height="493" fill="#e0e0e0"/><use href="#t" x="4871" y="1341"/><use href="#u" x="4871" y="1834"/>
<text class="b" x="4810" y="1839">A11</text>

<rect class="k" x="4329" y="1485" width="19" height="132"/><rect class="y" x="4333" y="1485" width="3" height="132"/><rect class="y" x="4341" y="1485" width="3" height="132"/><use href="#t" x="4338.5" y="1485"/><use href="#u" x="4338.5" y="1617"/>
<text x="4233" y="1561">YEL/BLK</text>
<path class="n" d="M4241,1631H4426"/><use href="#O" x="4241" y="1631"/><use href="#O" x="4338.5" y="1631"/><use href="#O" x="4426" y="1631"/>
<rect class="k" x="4231.5" y="1645" width="19" height="188"/><rect class="y" x="4235.5" y="1645" width="3" height="188"/><rect class="y" x="4243.5" y="1645" width="3" height="188"/><use href="#t" x="4241" y="1645"/><use href="#u" x="4241" y="1833"/>
<text x="4135" y="1735">YEL/BLK</text><text class="b" x="4191" y="1839">B3</text>
<path d="M4426,1645V1759" stroke="#000" stroke-width="19" stroke-dasharray="17 3"/><path d="M4421,1645V1759M4431,1645V1759" stroke="#ff0" stroke-width="3" stroke-dasharray="17 3"/><use href="#t" x="4426" y="1645"/>
<polygon points="4413,1759 4439,1759 4426,1783" fill="#000"/>
<text x="4405" y="1807">Splices</text><text x="4450" y="1641">C106</text><text x="4450" y="1661">(Terminals</text><text x="4450" y="1681">1-12)</text>

<!-- fuel pump -->
<rect class="pk" x="5286.5" y="1345" width="18" height="195"/><use href="#t" x="5295.5" y="1345"/><use href="#u" x="5295.5" y="1540"/>
<text x="5229" y="1450">PNK</text><text x="5258" y="1549">2</text>
<rect class="d" x="5218" y="1555.5" width="279" height="192"/>
<rect class="box" x="5258" y="1599.5" width="76" height="103.5"/>
<path class="tl" d="M5295.5,1556V1747"/><use href="#au" x="5295.5" y="1556"/><use href="#ad" x="5295.5" y="1747"/>
<rect x="5289" y="1628" width="14" height="7" fill="#fff" stroke="#000" stroke-width="2.5"/><rect x="5289" y="1668" width="14" height="7" fill="#fff" stroke="#000" stroke-width="2.5"/>
<circle cx="5296" cy="1651.5" r="19.5" fill="#fff" stroke="#000" stroke-width="3"/><text class="m" x="5296" y="1658" style="font-size:18px">M</text>
<text x="5345" y="1615">Fuel Pump</text><text x="5509" y="1571">Fuel Tank</text><text x="5509" y="1590">Unit</text>
<text x="5258" y="1772">4</text>
<rect class="k" x="5286" y="1759" width="19" height="352"/><use href="#t" x="5295.5" y="1759"/><use href="#g" x="5297" y="2126"/>
<text x="5233" y="1918">BLK</text><text x="5320" y="2127">G602</text>
</svg>
</body></html>
